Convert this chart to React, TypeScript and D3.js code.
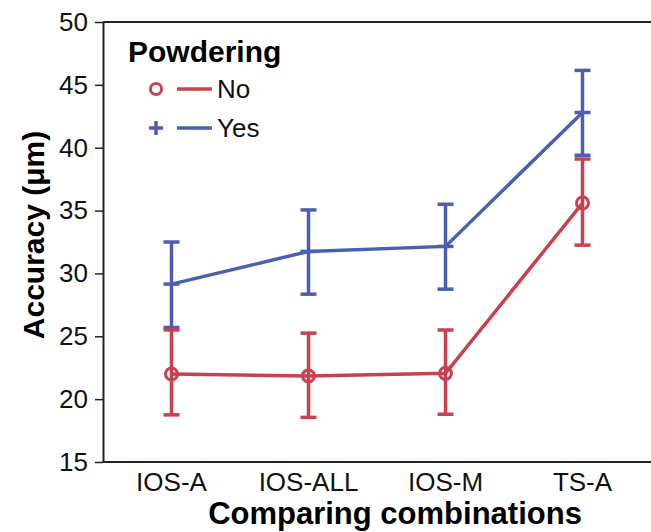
import React, { useEffect, useRef } from 'react';
import * as d3 from 'd3';

const categories = ['IOS-A', 'IOS-ALL', 'IOS-M', 'TS-A'];
const noMean = [22.0, 21.85, 22.05, 35.6];
const noLow = [18.75, 18.55, 18.8, 32.25];
const noHigh = [25.5, 25.25, 25.5, 39.1];
const yesMean = [29.15, 31.75, 32.15, 42.8];
const yesLow = [25.7, 28.35, 28.75, 39.4];
const yesHigh = [32.5, 35.05, 35.5, 46.15];
const yTicks = [15, 20, 25, 30, 35, 40, 45, 50];

const RED = '#c8414f';
const BLUE = '#4b5fb2';
const FONT = '"Liberation Sans", Arial, sans-serif';

const W = 651;
const H = 532;

export default function App() {
  const svgRef = useRef<SVGSVGElement>(null);

  useEffect(() => {
    if (!svgRef.current) return;
    const svg = d3.select(svgRef.current);
    svg.selectAll('*').remove();

    const left = 103, right = 651, top = 22, bottom = 462;

    const x = d3.scalePoint<string>().domain(categories).range([left, right]).padding(0.5);
    const y = d3.scaleLinear().domain([15, 50]).range([bottom, top]);

    // frame lines (top + bottom)
    svg.append('line')
      .attr('x1', left).attr('x2', right).attr('y1', top).attr('y2', top)
      .attr('stroke', '#222').attr('stroke-width', 2);
    svg.append('line')
      .attr('x1', left).attr('x2', right).attr('y1', bottom).attr('y2', bottom)
      .attr('stroke', '#222').attr('stroke-width', 2);

    // y axis
    const yAxis = svg.append('g')
      .attr('transform', `translate(${left},0)`)
      .call(d3.axisLeft(y).tickValues(yTicks).tickSize(8).tickPadding(7).tickSizeOuter(0));
    yAxis.select('.domain').attr('stroke', '#222').attr('stroke-width', 2);
    yAxis.selectAll('.tick line').attr('stroke', '#222').attr('stroke-width', 1.5);
    yAxis.selectAll('.tick text')
      .attr('font-family', FONT).attr('font-size', 26).attr('fill', '#111');

    // x tick labels
    svg.append('g').selectAll('text')
      .data(categories)
      .join('text')
      .attr('x', d => x(d)!)
      .attr('y', 491)
      .attr('text-anchor', 'middle')
      .attr('font-family', FONT).attr('font-size', 26).attr('fill', '#111')
      .text(d => d);

    // axis titles
    svg.append('text')
      .attr('x', 395).attr('y', 524)
      .attr('text-anchor', 'middle')
      .attr('font-family', FONT).attr('font-size', 31).attr('font-weight', 'bold')
      .text('Comparing combinations');
    svg.append('text')
      .attr('transform', 'translate(44,235) rotate(-90)')
      .attr('text-anchor', 'middle')
      .attr('font-family', FONT).attr('font-size', 30).attr('font-weight', 'bold')
      .text('Accuracy (μm)');

    const line = d3.line<[number, number]>().x(d => d[0]).y(d => d[1]);

    const series = [
      { mean: yesMean, low: yesLow, high: yesHigh, color: BLUE, marker: 'plus' },
      { mean: noMean, low: noLow, high: noHigh, color: RED, marker: 'circle' },
    ];

    series.forEach(s => {
      const g = svg.append('g');
      const pts = categories.map((c, i) => [x(c)!, y(s.mean[i])] as [number, number]);
      g.append('path')
        .attr('d', line(pts))
        .attr('fill', 'none')
        .attr('stroke', s.color)
        .attr('stroke-width', 3.5);

      categories.forEach((c, i) => {
        const cx = x(c)!;
        g.append('line')
          .attr('x1', cx).attr('x2', cx)
          .attr('y1', y(s.low[i])).attr('y2', y(s.high[i]))
          .attr('stroke', s.color).attr('stroke-width', 3.5);
        [s.low[i], s.high[i]].forEach(v => {
          g.append('line')
            .attr('x1', cx - 8).attr('x2', cx + 8)
            .attr('y1', y(v)).attr('y2', y(v))
            .attr('stroke', s.color).attr('stroke-width', 3.5);
        });
        if (s.marker === 'circle') {
          g.append('circle')
            .attr('cx', cx).attr('cy', y(s.mean[i])).attr('r', 6)
            .attr('fill', 'none').attr('stroke', s.color).attr('stroke-width', 3);
        } else {
          g.append('line')
            .attr('x1', cx - 8).attr('x2', cx + 8)
            .attr('y1', y(s.mean[i])).attr('y2', y(s.mean[i]))
            .attr('stroke', s.color).attr('stroke-width', 3.5);
        }
      });
    });

    // legend
    const lg = svg.append('g');
    lg.append('text')
      .attr('x', 128).attr('y', 62)
      .attr('font-family', FONT).attr('font-size', 30).attr('font-weight', 'bold')
      .text('Powdering');

    const items = [
      { label: 'No', color: RED, marker: 'circle', yy: 89 },
      { label: 'Yes', color: BLUE, marker: 'plus', yy: 128 },
    ];
    items.forEach(it => {
      if (it.marker === 'circle') {
        lg.append('circle')
          .attr('cx', 156).attr('cy', it.yy).attr('r', 5.5)
          .attr('fill', 'none').attr('stroke', it.color).attr('stroke-width', 3);
      } else {
        lg.append('path')
          .attr('d', `M${149},${it.yy}H${163}M${156},${it.yy - 7}V${it.yy + 7}`)
          .attr('stroke', it.color).attr('stroke-width', 3.5);
      }
      lg.append('line')
        .attr('x1', 177).attr('x2', 212).attr('y1', it.yy).attr('y2', it.yy)
        .attr('stroke', it.color).attr('stroke-width', 3.5);
      lg.append('text')
        .attr('x', 217).attr('y', it.yy + 9)
        .attr('font-family', FONT).attr('font-size', 26).attr('fill', '#111')
        .text(it.label);
    });
  }, []);

  return (
    <svg
      ref={svgRef}
      width={W}
      height={H}
      style={{ position: 'absolute', left: 0, top: 0, background: '#fff' }}
    />
  );
}
